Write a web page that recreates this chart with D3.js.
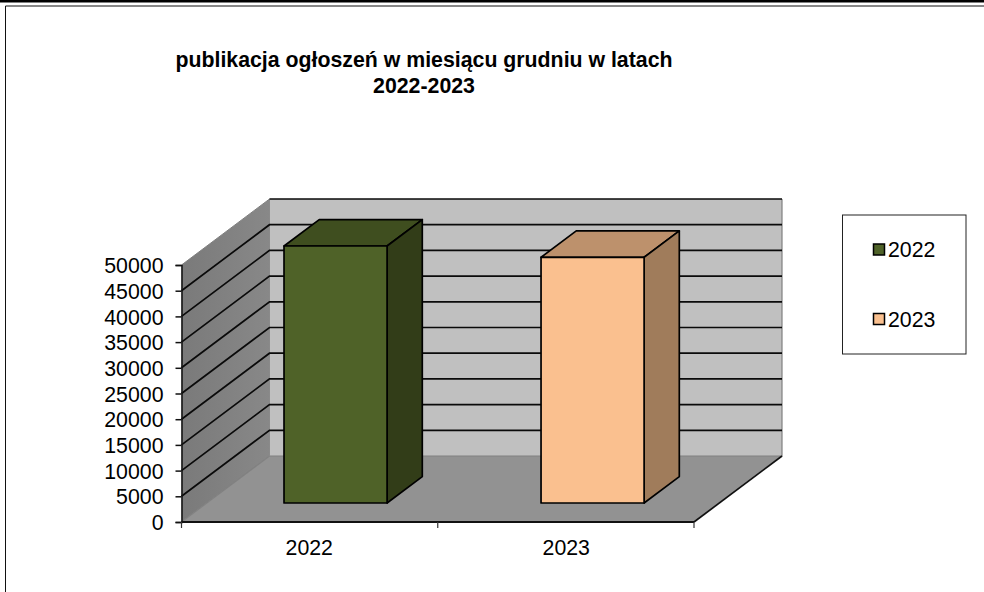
<!DOCTYPE html>
<html><head><meta charset="utf-8">
<script src="https://cdn.jsdelivr.net/npm/d3@7/dist/d3.min.js"></script>
<style>html,body{margin:0;padding:0;background:#fff}svg{display:block}text{font-family:"Liberation Sans",Arial,sans-serif;fill:#000}</style>
</head><body><svg id="c" width="984" height="592"></svg>
<script>
const titleLines = ["publikacja ogłoszeń w miesiącu grudniu w latach", "2022-2023"];
const categories = ["2022", "2023"];
const values = [50000, 47800];
const yTicks = [0,5000,10000,15000,20000,25000,30000,35000,40000,45000,50000];
const frontColors = ["#4f6228", "#fac08f"];
const topColors = ["#3f4e1f", "#bd916c"];
const sideColors = ["#323d18", "#a07c5b"];

const svg = d3.select("#c");
const plot = {x0:181.5, x1:694, y0:522, y1:265, dx:88, dy:66};
const y = d3.scaleLinear().domain([0,50000]).range([plot.y0, plot.y1]);
const x = d3.scaleBand().domain(categories).range([plot.x0, plot.x1]).paddingInner(0.599).paddingOuter(0.2965);
const depthFront = 0.2990, depthBack = 0.6990;
const pts = a => a.map(p=>p.join(",")).join(" ");
const defs = svg.append("defs");
const g1 = defs.append("linearGradient").attr("id","sideG").attr("x1",0).attr("x2",1).attr("y1",0).attr("y2",0);
g1.append("stop").attr("offset",0).attr("stop-color","#7a7a7a");
g1.append("stop").attr("offset",1).attr("stop-color","#888888");

// outer frame
svg.append("rect").attr("x",0).attr("y",0).attr("width",984).attr("height",2.5).attr("fill","#000");
svg.append("line").attr("x1",5.5).attr("x2",984).attr("y1",6).attr("y2",6).attr("stroke","#111").attr("stroke-width",1);
svg.append("line").attr("x1",5.5).attr("x2",5.5).attr("y1",6).attr("y2",592).attr("stroke","#111").attr("stroke-width",1);

// title
svg.append("text").attr("text-anchor","middle").attr("font-weight","bold").style("font-size","21.3px")
  .selectAll("tspan").data(titleLines).join("tspan")
  .attr("x",424).attr("y",(d,i)=>67+i*26).text(d=>d);

const bx = plot.x0 + plot.dx, by = -plot.dy;
// walls
svg.append("polygon").attr("points",pts([[bx,y(0)+by],[plot.x1+plot.dx,y(0)+by],[plot.x1+plot.dx,y(50000)+by],[bx,y(50000)+by]])).attr("fill","#c0c0c0");
svg.append("polygon").attr("points",pts([[plot.x0,y(0)],[bx,y(0)+by],[bx,y(50000)+by],[plot.x0,y(50000)]])).attr("fill","url(#sideG)");
svg.append("polygon").attr("points",pts([[plot.x0,y(0)],[plot.x1,y(0)],[plot.x1+plot.dx,y(0)+by],[bx,y(0)+by]])).attr("fill","#929292");

// wall edges
svg.append("polyline").attr("fill","none").attr("stroke","#808080").attr("stroke-width",1)
  .attr("points",pts([[plot.x0,y(50000)],[bx,y(50000)+by]]));
svg.append("polyline").attr("fill","none").attr("stroke","#808080").attr("stroke-width",1.2)
  .attr("points",pts([[plot.x0,y(0)],[bx,y(0)+by],[plot.x1+plot.dx,y(0)+by],[plot.x1+plot.dx,y(50000)+by]]));
svg.append("line").attr("x1",bx).attr("x2",bx).attr("y1",y(0)+by).attr("y2",y(50000)+by).attr("stroke","#8a8a8a");
// gridlines
svg.append("g").selectAll("polyline").data(yTicks.filter(t=>t>0)).join("polyline")
  .attr("fill","none").attr("stroke","#0a0a0a").attr("stroke-width",1.7)
  .attr("points",t=>pts(t===50000
     ? [[bx,y(t)+by],[plot.x1+plot.dx,y(t)+by]]
     : [[plot.x0,y(t)],[bx,y(t)+by],[plot.x1+plot.dx,y(t)+by]]));

// bars
const barG = svg.append("g").attr("stroke","#000").attr("stroke-width",1.7).attr("stroke-linejoin","round");
categories.forEach((c,i)=>{
  const l = x(c)+plot.dx*depthFront, w = x.bandwidth();
  const f = plot.dy*0.288, bk = plot.dx*(depthBack-depthFront), bu = plot.dy*(depthBack-depthFront);
  const b = y(0)-f, t = y(values[i])-f;
  barG.append("polygon").attr("fill",topColors[i]).attr("points",pts([[l,t],[l+w,t],[l+w+bk,t-bu],[l+bk,t-bu]]));
  barG.append("polygon").attr("fill",sideColors[i]).attr("points",pts([[l+w,t],[l+w+bk,t-bu],[l+w+bk,b-bu],[l+w,b]]));
  barG.append("rect").attr("fill",frontColors[i]).attr("x",l).attr("y",t).attr("width",w).attr("height",b-t);
});

// floor front edge and axes
svg.append("line").attr("x1",plot.x0).attr("x2",plot.x1).attr("y1",y(0)).attr("y2",y(0)).attr("stroke","#111").attr("stroke-width",2);
svg.append("line").attr("x1",plot.x1).attr("x2",plot.x1+plot.dx).attr("y1",y(0)).attr("y2",y(0)+by).attr("stroke","#111").attr("stroke-width",1.7);
const yAxis = svg.append("g").attr("transform",`translate(${plot.x0},0)`).call(d3.axisLeft(y).tickValues(yTicks).tickSize(6).tickPadding(12).tickFormat(d3.format("d")));
yAxis.selectAll("path,line").attr("stroke","#111").attr("stroke-width",1.5);
yAxis.selectAll("text").style("font-size","21.3px").attr("dy","0.36em");
yAxis.attr("font-family",null);
const tickX = [plot.x0, (plot.x0+plot.x1)/2, plot.x1];
svg.append("g").selectAll("line").data(tickX).join("line")
  .attr("x1",d=>d).attr("x2",d=>d).attr("y1",y(0)).attr("y2",y(0)+6).attr("stroke","#333").attr("stroke-width",1.2);
svg.append("g").selectAll("text").data(categories).join("text")
  .attr("x",c=>x(c)+x.bandwidth()/2).attr("y",555).attr("text-anchor","middle").style("font-size","21.3px").text(c=>c);

// legend
svg.append("rect").attr("x",842.5).attr("y",215).attr("width",123.5).attr("height",139).attr("fill","#fff").attr("stroke","#222").attr("stroke-width",1);
const lg = svg.append("g").selectAll("g").data(categories).join("g").attr("transform",(d,i)=>`translate(873.5,${244+i*69.5})`);
lg.append("rect").attr("width",11).attr("height",11).attr("fill",(d,i)=>frontColors[i]).attr("stroke","#000").attr("stroke-width",1.5);
lg.append("text").attr("x",14.5).attr("y",13.3).style("font-size","21.3px").text(d=>d);
</script></body></html>
